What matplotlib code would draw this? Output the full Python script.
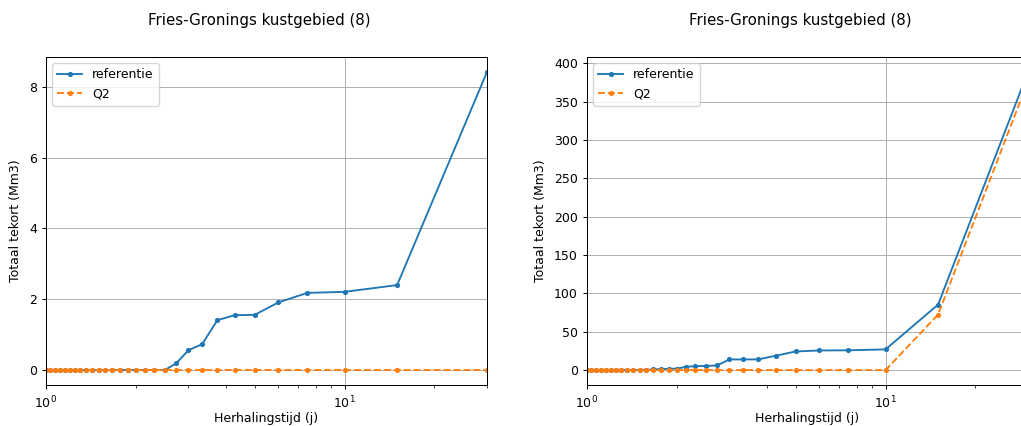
import numpy as np
import matplotlib
matplotlib.use('Agg')
import matplotlib.pyplot as plt

# alles iets kleiner, zoals in het origineel (opgeslagen op lagere dpi)
plt.rcParams['font.size'] = 9
plt.rcParams['lines.linewidth'] = 1.35
plt.rcParams['lines.markersize'] = 5.4
plt.rcParams['axes.linewidth'] = 0.72
plt.rcParams['grid.linewidth'] = 0.72
plt.rcParams['xtick.major.width'] = 0.72
plt.rcParams['ytick.major.width'] = 0.72
plt.rcParams['xtick.minor.width'] = 0.54
plt.rcParams['xtick.major.size'] = 3.15
plt.rcParams['ytick.major.size'] = 3.15
plt.rcParams['xtick.minor.size'] = 1.8

# herhalingstijd (j)
T = [1.0, 1.034, 1.071, 1.111, 1.154, 1.2, 1.25, 1.304, 1.364, 1.429,
     1.5, 1.579, 1.667, 1.765, 1.875, 2.0, 2.143, 2.308, 2.5, 2.727,
     3.0, 3.333, 3.75, 4.286, 5.0, 6.0, 7.5, 10.0, 15.0, 30.0]

# linker figuur
ref_links = [0, 0, 0, 0, 0, 0, 0, 0, 0, 0,
             0, 0, 0, 0, 0, 0, 0, 0, 0, 0.19,
             0.56, 0.73, 1.41, 1.55, 1.56, 1.91, 2.18, 2.21, 2.40, 8.42]
q2_links = [0] * 30

# rechter figuur
ref_rechts = [0, 0, 0, 0, 0, 0, 0, 0, 0, 0,
              0.2, 0.4, 0.9, 1.3, 1.7, 1.8, 4.3, 5.2, 5.3, 6.1,
              13.9, 13.9, 14.0, 18.7, 24.3, 25.6, 25.8, 27.0, 85.5, 389.0]
q2_rechts = [0, 0, 0, 0, 0, 0, 0, 0, 0, 0,
             0, 0, 0, 0, 0, 0, 0, 0, 0, 0,
             0, 0, 0, 0, 0, 0, 0, 0, 72.5, 377.0]

titel = "Fries-Gronings kustgebied (8)"

fig = plt.figure(figsize=(10.21, 4.26), dpi=100)
ax1 = fig.add_axes([46 / 1021, 41 / 426, 441 / 1021, 328 / 426])
ax2 = fig.add_axes([587 / 1021, 41 / 426, 441 / 1021, 328 / 426])

for ax, ref, q2 in [(ax1, ref_links, q2_links), (ax2, ref_rechts, q2_rechts)]:
    ax.plot(T, ref, '.-', label='referentie')
    ax.plot(T, q2, '.--', label='Q2')
    ax.set_xscale('log')
    ax.set_xlim(1, 30)
    ax.grid(True)
    ax.set_xlabel('Herhalingstijd (j)', labelpad=1)
    ax.set_ylabel('Totaal tekort (Mm3)', labelpad=5)
    ax.legend(loc='upper left')

fig.text(259 / 1021, 1 - 21 / 426, titel, ha='center', va='center', fontsize=10.8)
fig.text(800 / 1021, 1 - 21 / 426, titel, ha='center', va='center', fontsize=10.8)

fig.savefig('out.png', dpi=100)
